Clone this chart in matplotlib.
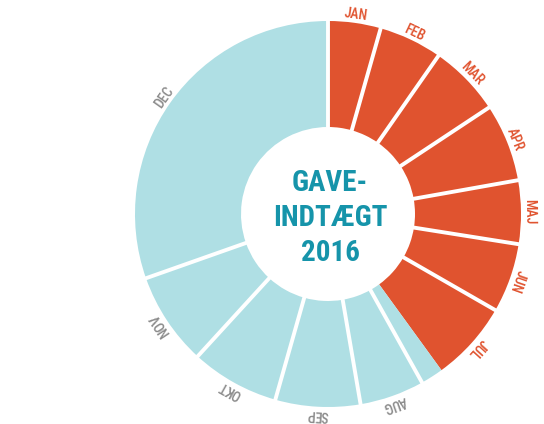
import numpy as np
import matplotlib
matplotlib.use("Agg")
import matplotlib.pyplot as plt

months = ["JAN", "FEB", "MAR", "APR", "MAJ", "JUN", "JUL",
          "AUG", "SEP", "OKT", "NOV", "DEC"]
share = [4.4, 5.3, 6.0, 6.5, 5.3, 5.8, 8.6, 5.4, 7.1, 7.4, 7.8, 30.4]
received = [4.4, 5.3, 6.0, 6.5, 5.3, 5.8, 6.7, 0, 0, 0, 0, 0]
center_title = "GAVE-\nINDTÆGT\n2016"

ORANGE = "#e0532f"
BLUE = "#afdfe4"
GREY = "#8c8c8c"
TEAL = "#1694aa"
FONT = ["Roboto Condensed", "DejaVu Sans"]

W, H = 544, 424
fig = plt.figure(figsize=(W / 100, H / 100), dpi=100)
ax = fig.add_axes([0, 0, 1, 1])

cx, cy = 328, H - 214
R_OUT, R_IN = 193, 87

pieces, colors = [], []
for s, r in zip(share, received):
    if r > 0:
        pieces.append(r)
        colors.append(ORANGE)
    if s - r > 0:
        pieces.append(s - r)
        colors.append(BLUE)

ax.pie(pieces, colors=colors, center=(cx, cy), radius=R_OUT, startangle=90,
       counterclock=False, wedgeprops=dict(width=R_OUT - R_IN, linewidth=0))

total = float(sum(share))
cum = np.concatenate([[0], np.cumsum(share)]) / total * 360.0
for a in cum[:-1]:
    t = np.deg2rad(a)
    ax.plot([cx + (R_IN - 5) * np.sin(t), cx + (R_OUT + 5) * np.sin(t)],
            [cy + (R_IN - 5) * np.cos(t), cy + (R_OUT + 5) * np.cos(t)],
            color="white", lw=2.8, solid_capstyle="butt", zorder=3)

for i, m in enumerate(months):
    start = cum[i]
    span_part = received[i] if 0 < received[i] < share[i] else share[i]
    mid = start + span_part / total * 360.0 / 2
    t = np.deg2rad(mid)
    col = ORANGE if received[i] > 0 else GREY
    ax.text(cx + 201 * np.sin(t), cy + 201 * np.cos(t), m,
            rotation=-mid, rotation_mode="anchor", ha="center", va="center",
            fontsize=10, fontweight="medium", color=col, family=FONT, zorder=4)

ax.text(cx + 2, cy - 4, center_title, ha="center", va="center",
        fontsize=21, fontweight="bold", color=TEAL, family=FONT,
        linespacing=1.32, zorder=4)

ax.set_xlim(0, W)
ax.set_ylim(0, H)
ax.set_aspect("equal")
ax.axis("off")
fig.savefig("out.png", dpi=100, facecolor="white")
